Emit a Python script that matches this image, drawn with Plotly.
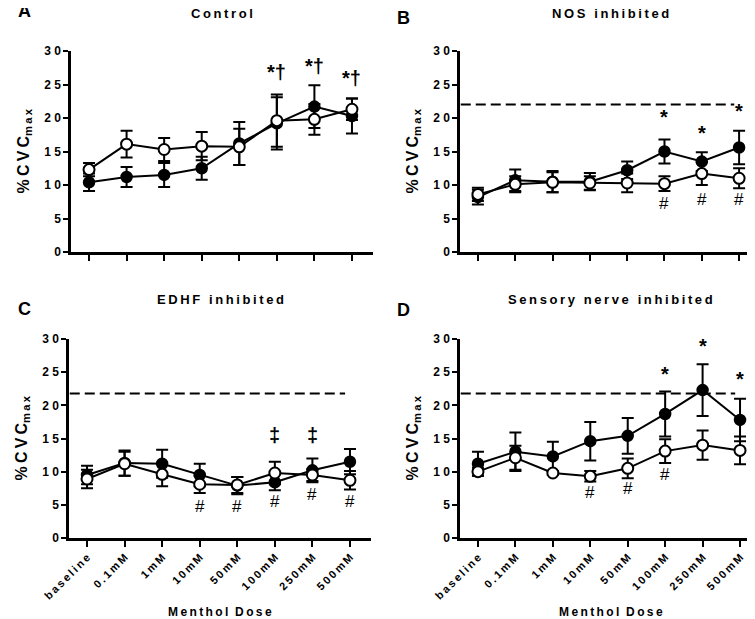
import plotly.graph_objects as go
from plotly.subplots import make_subplots

doses = ["baseline", "0.1mM", "1mM", "10mM", "50mM", "100mM", "250mM", "500mM"]
titles = ["Control", "NOS inhibited", "EDHF inhibited", "Sensory nerve inhibited"]
letters = ["A", "B", "C", "D"]

# filled circles
filled_A = [10.4, 11.2, 11.5, 12.5, 16.2, 19.2, 21.7, 20.3]
filled_A_err = [1.3, 1.5, 1.8, 1.7, 3.2, 3.9, 3.2, 2.6]
filled_B = [8.2, 10.7, 10.5, 10.5, 12.2, 15.0, 13.5, 15.6]
filled_B_err = [1.1, 1.6, 1.6, 1.3, 1.3, 1.8, 1.4, 2.5]
filled_C = [9.5, 11.3, 11.2, 9.5, 7.9, 8.4, 10.2, 11.5]
filled_C_err = [1.4, 1.9, 2.1, 1.7, 1.3, 1.2, 1.8, 1.9]
filled_D = [11.2, 13.0, 12.3, 14.6, 15.4, 18.7, 22.3, 17.8]
filled_D_err = [1.8, 2.9, 2.2, 2.9, 2.7, 3.4, 3.9, 3.2]

# open circles
open_A = [12.3, 16.1, 15.3, 15.8, 15.7, 19.6, 19.8, 21.3]
open_A_err = [1.0, 2.0, 1.7, 2.1, 2.7, 3.9, 2.3, 1.6]
open_B = [8.6, 10.1, 10.4, 10.3, 10.3, 10.2, 11.7, 11.0]
open_B_err = [1.0, 1.2, 1.5, 1.0, 1.4, 1.1, 1.7, 1.5]
open_C = [8.9, 11.2, 9.6, 8.1, 8.0, 9.8, 9.5, 8.7]
open_C_err = [1.4, 1.8, 1.8, 1.3, 1.2, 1.7, 0.9, 1.4]
open_D = [10.0, 12.1, 9.8, 9.3, 10.5, 13.1, 14.0, 13.2]
open_D_err = [0.6, 1.8, 0.3, 0.8, 1.5, 1.8, 2.2, 2.1]

# dashed reference level (none in Control)
ref_level = [None, 22.0, 21.8, 21.8]
ref_end = 6.87

# significance marks: (text, dose index, y)
marks_A = [("*†", 5, 25.9), ("*†", 6, 26.8), ("*†", 7, 25.1)]
marks_B = [("*", 5, 19.3), ("*", 6, 16.9), ("*", 7, 20.1),
           ("#", 5, 6.9), ("#", 6, 7.6), ("#", 7, 7.5)]
marks_C = [("‡", 5, 14.6), ("‡", 6, 14.6), ("#", 3, 4.4), ("#", 4, 4.5),
           ("#", 5, 5.2), ("#", 6, 6.3), ("#", 7, 5.2)]
marks_D = [("*", 5, 23.8), ("*", 6, 28.0), ("*", 7, 23.0),
           ("#", 3, 6.5), ("#", 4, 7.1), ("#", 5, 9.2)]

filled = [(filled_A, filled_A_err), (filled_B, filled_B_err), (filled_C, filled_C_err), (filled_D, filled_D_err)]
opened = [(open_A, open_A_err), (open_B, open_B_err), (open_C, open_C_err), (open_D, open_D_err)]
marks = [marks_A, marks_B, marks_C, marks_D]

W, H = 755, 619
FONT = "Liberation Sans"
TS = "\u2009"
YS = 6  # annotation boxes sit a little low, lift them


def spaced(s, sep=TS):
    return sep.join(list(s))


# pixel boxes of the plot areas: (left, right, top, bottom)
boxes = [(63, 365, 43, 244), (452, 752, 43, 244), (61, 363, 331, 530), (452, 753, 331, 530)]
letter_pos = [(8, 9), (387, 16), (8, 307), (387, 308)]
title_y = [11, 11, 297, 297]

fig = make_subplots(rows=2, cols=2)
idx = list(range(len(doses)))

for k in range(4):
    r, c = k // 2 + 1, k % 2 + 1
    y, e = filled[k]
    fig.add_trace(go.Scatter(
        x=idx, y=y, mode="lines+markers",
        error_y=dict(type="data", array=e, color="black", thickness=2, width=6),
        line=dict(color="black", width=2),
        marker=dict(color="black", size=11, line=dict(color="black", width=1.5)),
        showlegend=False), row=r, col=c)
    y, e = opened[k]
    fig.add_trace(go.Scatter(
        x=idx, y=y, mode="lines+markers",
        error_y=dict(type="data", array=e, color="black", thickness=2, width=6),
        line=dict(color="black", width=2),
        marker=dict(color="white", size=11, line=dict(color="black", width=2)),
        showlegend=False), row=r, col=c)

annots = []
shapes = []
for k in range(4):
    l, rgt, t, b = boxes[k]
    sfx = "" if k == 0 else str(k + 1)
    xa = "xaxis" + sfx
    ya = "yaxis" + sfx
    fig.layout[xa].update(
        domain=[l / W, rgt / W], range=[-0.48, 7.56],
        tickvals=idx, ticktext=[spaced(d) for d in doses],
        showticklabels=(k >= 2), tickangle=-45,
        tickfont=dict(family=FONT, size=11, color="black", weight="bold"),
        ticks="outside", ticklen=6, tickwidth=2, tickcolor="black",
        showline=True, linewidth=2.5, linecolor="black",
        showgrid=False, zeroline=False, automargin=False)
    fig.layout[ya].update(
        domain=[1 - b / H, 1 - t / H], range=[0, 30],
        tickvals=[0, 5, 10, 15, 20, 25, 30],
        ticktext=[spaced(str(v), " ") for v in [0, 5, 10, 15, 20, 25, 30]],
        tickfont=dict(family=FONT, size=12, color="black", weight="bold"),
        ticks="outside", ticklen=5, tickwidth=2, tickcolor="black",
        showline=True, linewidth=2.5, linecolor="black",
        showgrid=False, zeroline=False, automargin=False)

    lx, ly = letter_pos[k]
    annots.append(dict(text=letters[k], x=lx / W, y=1 - ly / H, yshift=YS,
                       xref="paper", yref="paper", showarrow=False,
                       xanchor="left", yanchor="middle",
                       font=dict(family=FONT, size=18, color="black", weight="bold")))
    annots.append(dict(text=spaced(titles[k]), x=(l + rgt) / 2 / W, y=1 - title_y[k] / H,
                       yshift=YS, xref="paper", yref="paper", showarrow=False,
                       xanchor="center", yanchor="middle",
                       font=dict(family=FONT, size=13, color="black", weight="bold")))
    annots.append(dict(text="%" + TS + spaced("CVC") + "<sub>" + spaced("max") + "</sub>",
                       x=(l - 47) / W, y=1 - (t + b) / 2 / H, textangle=-90,
                       xref="paper", yref="paper", showarrow=False,
                       xanchor="center", yanchor="middle",
                       font=dict(family=FONT, size=16, color="black", weight="bold")))
    if k >= 2:
        annots.append(dict(text=spaced("Menthol") + "  " + spaced("Dose"),
                           x=(l + rgt) / 2 / W, y=1 - 610 / H, yshift=YS,
                           xref="paper", yref="paper", showarrow=False,
                           xanchor="center", yanchor="middle",
                           font=dict(family=FONT, size=12, color="black", weight="bold")))
    if ref_level[k] is not None:
        shapes.append(dict(type="line", xref="x" + sfx, yref="y" + sfx,
                           x0=-0.46, x1=ref_end, y0=ref_level[k], y1=ref_level[k],
                           line=dict(color="black", width=2, dash="10px,5px")))
    for txt, xi, yv in marks[k]:
        hash_mark = txt == "#"
        annots.append(dict(text=txt, x=xi, y=yv, xref="x" + sfx, yref="y" + sfx,
                           yshift=2 if hash_mark else YS, showarrow=False,
                           xanchor="center", yanchor="middle",
                           font=dict(family=FONT, size=17 if hash_mark else 20,
                                     color="black",
                                     weight="normal" if hash_mark else "bold")))

fig.update_layout(width=W, height=H, margin=dict(l=0, r=0, t=0, b=0),
                  plot_bgcolor="white", paper_bgcolor="white",
                  annotations=annots, shapes=shapes)

fig.write_html("out.html")
